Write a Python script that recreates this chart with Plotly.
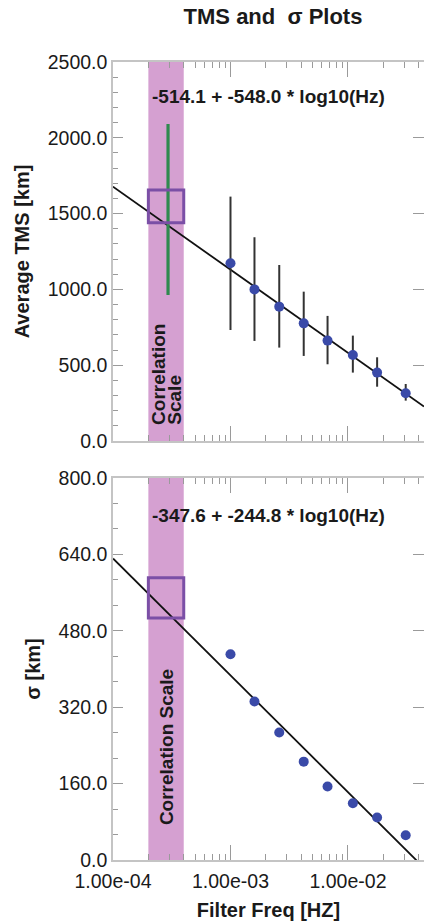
import numpy as np
import plotly.graph_objects as go

# Filter frequencies [Hz] of the analysed bands
freq = [0.0010, 0.0016, 0.0026, 0.0042, 0.0067, 0.0110, 0.0177, 0.0310]

# Average TMS [km] with asymmetric uncertainties
tms = [1172, 1000, 886, 776, 662, 567, 451, 315]
tms_err_plus = [440, 344, 275, 209, 163, 128, 101, 61]
tms_err_minus = [440, 340, 270, 215, 156, 116, 93, 49]

# Sigma [km]
sigma = [431, 332, 267, 206, 154, 119, 89, 52]

# Linear fits in log10(frequency): value = a + b * log10(Hz)
tms_fit = (-514.1, -548.0)
sigma_fit = (-347.6, -244.8)

# Correlation-scale band and the values extrapolated there
corr_band = [2.0e-4, 4.0e-4]
corr_freq = 2.94e-4
tms_corr_box = [1440, 1655]
tms_corr_range = [963, 2091]
sigma_corr_box = [507, 591]

x_ticks = [1e-4, 1e-3, 1e-2]
x_ticktext = ["1.00e-04", "1.00e-03", "1.00e-02"]
x_minor = [m * 10.0 ** e for e in (-4, -3, -2) for m in range(2, 10)]

FONT = "Liberation Sans, Arial, sans-serif"
TXT = "#1a1a1a"
AXLINE = "#c4c4c4"
TICKC = "#9a9a9a"
BAND = "#d5a0d1"
BOX = "#7b4fa6"
DOT = "#3a4aa8"

x_lo, x_hi = -4.0, -1.353
fit_x = [10 ** x_lo, 10 ** x_hi]


def fit_line(coef):
    return [coef[0] + coef[1] * np.log10(f) for f in fit_x]


def fit_label(coef):
    return f"{coef[0]:.1f} + {coef[1]:.1f} * log10(Hz)"


fig = go.Figure()

# Top panel: TMS
fig.add_trace(go.Scatter(x=fit_x, y=fit_line(tms_fit), mode="lines",
                         line=dict(color="#111111", width=1.8),
                         xaxis="x", yaxis="y", showlegend=False))
fig.add_trace(go.Scatter(x=[corr_freq, corr_freq], y=tms_corr_range, mode="lines",
                         line=dict(color="#2f8a4f", width=3.2),
                         xaxis="x", yaxis="y", showlegend=False))
fig.add_trace(go.Scatter(x=freq, y=tms, mode="markers",
                         marker=dict(color=DOT, size=10),
                         error_y=dict(type="data", symmetric=False,
                                      array=tms_err_plus, arrayminus=tms_err_minus,
                                      color="#333333", thickness=2, width=0),
                         xaxis="x", yaxis="y", showlegend=False))

# Bottom panel: sigma
fig.add_trace(go.Scatter(x=fit_x, y=fit_line(sigma_fit), mode="lines",
                         line=dict(color="#111111", width=1.8),
                         xaxis="x2", yaxis="y2", showlegend=False))
fig.add_trace(go.Scatter(x=freq, y=sigma, mode="markers",
                         marker=dict(color=DOT, size=10),
                         xaxis="x2", yaxis="y2", showlegend=False))

# empty traces so the right-hand tick axes are drawn
fig.add_trace(go.Scatter(x=[], y=[], xaxis="x", yaxis="y3", showlegend=False))
fig.add_trace(go.Scatter(x=[], y=[], xaxis="x2", yaxis="y4", showlegend=False))

# Correlation-scale band and boxes
for yref in ("y", "y2"):
    xref = "x" if yref == "y" else "x2"
    fig.add_shape(type="rect", xref=xref, yref=f"{yref} domain",
                  x0=corr_band[0], x1=corr_band[1], y0=0, y1=1,
                  fillcolor=BAND, line=dict(width=0), layer="below")
fig.add_shape(type="rect", xref="x", yref="y",
              x0=corr_band[0], x1=corr_band[1], y0=tms_corr_box[0], y1=tms_corr_box[1],
              line=dict(color=BOX, width=3), layer="above")
fig.add_shape(type="rect", xref="x2", yref="y2",
              x0=corr_band[0], x1=corr_band[1], y0=sigma_corr_box[0], y1=sigma_corr_box[1],
              line=dict(color=BOX, width=3), layer="above")

band_mid = np.log10(np.sqrt(corr_band[0] * corr_band[1]))
eq_font = dict(family=FONT, size=19, color=TXT, weight="bold")
label_font = dict(family=FONT, size=19, color=TXT, weight="bold")

fig.add_annotation(text=fit_label(tms_fit), xref="x domain", yref="y",
                   x=0.5, y=2270, showarrow=False, font=eq_font)
fig.add_annotation(text=fit_label(sigma_fit), xref="x2 domain", yref="y2",
                   x=0.5, y=722, showarrow=False, font=eq_font)
# two tightly spaced rotated lines in the top band
fig.add_annotation(text="Correlation", xref="x", yref="y",
                   x=band_mid - 0.065, y=92, textangle=-90,
                   xanchor="center", yanchor="bottom", showarrow=False,
                   font=label_font)
fig.add_annotation(text="Scale", xref="x", yref="y",
                   x=band_mid + 0.065, y=92, textangle=-90,
                   xanchor="center", yanchor="bottom", showarrow=False,
                   font=label_font)
fig.add_annotation(text="Correlation Scale", xref="x2", yref="y2",
                   x=band_mid, y=69, textangle=-90,
                   xanchor="center", yanchor="bottom", showarrow=False,
                   font=label_font)

tick_font = dict(family=FONT, size=19.5, color=TXT)
title_font = dict(family=FONT, size=20, color=TXT, weight="bold")
xcommon = dict(type="log", range=[x_lo, x_hi], tickvals=x_ticks, ticktext=x_ticktext,
               ticks="inside", ticklen=15, tickcolor=TICKC, tickwidth=1,
               showline=True, linecolor=AXLINE, linewidth=1.5, mirror="ticks",
               showgrid=False, zeroline=False, tickfont=tick_font,
               minor=dict(tickvals=x_minor, ticks="inside", ticklen=6,
                          tickcolor=TICKC, showgrid=False))
ycommon = dict(ticks="inside", ticklen=10, tickcolor=TICKC, showline=True,
               linecolor=AXLINE, linewidth=1.5, showgrid=False, zeroline=False,
               tickformat=".1f", tickfont=tick_font)
yright = dict(ticks="inside", ticklen=11, tickcolor=TICKC, showline=False,
              showgrid=False, zeroline=False, showticklabels=False, side="right")

fig.update_layout(
    width=424, height=924,
    margin=dict(l=113, r=0, t=62, b=64),
    paper_bgcolor="white", plot_bgcolor="white",
    font=dict(family=FONT, color=TXT),
    title=dict(text="TMS and \u00a0σ Plots", x=273 / 424, xanchor="center",
               y=1 - 16 / 924, yanchor="middle",
               font=dict(family=FONT, size=22, color=TXT, weight="bold")),
    xaxis=dict(**xcommon, domain=[0, 1], anchor="y", showticklabels=False),
    xaxis2=dict(**xcommon, domain=[0, 1], anchor="y2", showticklabels=True,
                ticklabelstandoff=3,
                title=dict(text="Filter Freq [HZ]", standoff=12, font=title_font)),
    yaxis=dict(**ycommon, domain=[0.5251, 1], anchor="x", range=[0, 2500], dtick=500,
               minor=dict(dtick=100, ticks="inside", ticklen=5, tickcolor=TICKC),
               title=dict(text="Average TMS [km]", standoff=13, font=title_font)),
    yaxis2=dict(**ycommon, domain=[0, 0.4787], anchor="x2", range=[0, 800], dtick=160,
                minor=dict(dtick=160 / 3, ticks="inside", ticklen=5, tickcolor=TICKC),
                title=dict(text="σ [km]", standoff=13, font=title_font)),
    yaxis3=dict(**yright, overlaying="y", anchor="x", range=[0, 2500], dtick=500),
    yaxis4=dict(**yright, overlaying="y2", anchor="x2", range=[0, 800], dtick=160),
)

fig.write_html("out.html")
